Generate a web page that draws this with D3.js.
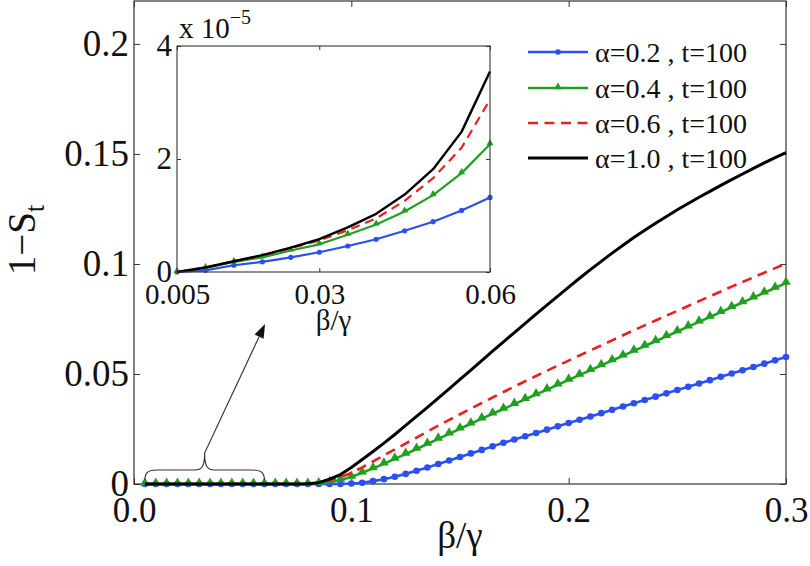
<!DOCTYPE html>
<html><head><meta charset="utf-8">
<script src="https://cdn.jsdelivr.net/npm/d3@7"></script>
<style>body{margin:0;background:#fff}</style></head><body>
<svg id="c" width="810" height="566"></svg>
<script>
// ---------- DATA ----------
const betaMain = [0.005,0.01,0.015,0.02,0.025,0.03,0.035,0.04,0.045,0.05,0.055,0.06,0.065,0.07,0.075,0.08,0.085,0.09,0.095,0.1,
  0.105,0.11,0.115,0.12,0.125,0.13,0.135,0.14,0.145,0.15,0.155,0.16,0.165,0.17,0.175,0.18,0.185,0.19,0.195,0.2,
  0.205,0.21,0.215,0.22,0.225,0.23,0.235,0.24,0.245,0.25,0.255,0.26,0.265,0.27,0.275,0.28,0.285,0.29,0.295,0.3];
const alpha02 = [0,0,0,0,0,0,0,0,0,0,0,0,0,0,0,0,0,0,0,0.0002,
  0.0006,0.0013,0.0022,0.0033,0.0046,0.0060,0.0075,0.0091,0.0107,0.0123,0.0139,0.0155,0.0171,0.0187,0.0202,0.0217,0.0232,0.0247,0.0262,0.0277,
  0.0292,0.0307,0.0322,0.0337,0.0352,0.0367,0.0382,0.0397,0.0412,0.0427,0.0442,0.0457,0.0472,0.0487,0.0502,0.0517,0.0532,0.0547,0.0562,0.0577];
const alpha04 = [0,0,0,0,0,0,0,0,0,0,0,0,0,0,0,0,0.0002,0.0008,0.0018,0.0032,
  0.0051,0.0071,0.0092,0.0114,0.0136,0.0159,0.0182,0.0205,0.0228,0.0251,0.0274,0.0297,0.0319,0.0341,0.0363,0.0385,0.0407,0.0429,0.0451,0.0473,
  0.0495,0.0517,0.0539,0.0561,0.0583,0.0605,0.0627,0.0649,0.0671,0.0693,0.0715,0.0737,0.0759,0.0781,0.0803,0.0825,0.0847,0.0869,0.0891,0.0913];
const alpha06 = [0,0,0,0,0,0,0,0,0,0,0,0,0,0,0,0,0.0006,0.0017,0.0032,0.0050,
  0.0076,0.0103,0.0130,0.0157,0.0184,0.0211,0.0238,0.0265,0.0291,0.0317,0.0343,0.0368,0.0393,0.0418,0.0443,0.0467,0.0491,0.0515,0.0538,0.0561,
  0.0584,0.0607,0.0630,0.0653,0.0676,0.0699,0.0721,0.0743,0.0765,0.0787,0.0809,0.0831,0.0853,0.0875,0.0897,0.0918,0.0939,0.0960,0.0981,0.1002];
const alpha10 = [0,0,0,0,0,0,0,0,0,0,0,0,0,0,0,0.0001,0.0006,0.0022,0.0043,0.0075,
  0.0111,0.0148,0.0186,0.0225,0.0266,0.0307,0.0348,0.0390,0.0432,0.0475,0.0518,0.0561,0.0604,0.0646,0.0688,0.0730,0.0772,0.0813,0.0854,0.0895,
  0.0935,0.0974,0.1012,0.1049,0.1085,0.1120,0.1153,0.1185,0.1216,0.1246,0.1275,0.1303,0.1330,0.1357,0.1383,0.1409,0.1434,0.1459,0.1483,0.1506];

// inset (values in units of 1e-5)
const betaInset = [0.005,0.01,0.015,0.02,0.025,0.03,0.035,0.04,0.045,0.05,0.055,0.06];
const inset02 = [0,0.03,0.12,0.18,0.26,0.35,0.46,0.58,0.73,0.89,1.09,1.32];
const inset04 = [0,0.07,0.18,0.26,0.38,0.49,0.66,0.84,1.07,1.36,1.75,2.26];
const inset06 = [0,0.08,0.19,0.29,0.42,0.56,0.74,0.95,1.26,1.66,2.20,3.05];
const inset10 = [0,0.08,0.19,0.30,0.43,0.58,0.79,1.03,1.37,1.82,2.48,3.55];

const seriesNames = ["\u03B1=0.2 , t=100","\u03B1=0.4 , t=100","\u03B1=0.6 , t=100","\u03B1=1.0 , t=100"];
const xTicks = [0,0.1,0.2,0.3];
const xTickLabels = ["0.0","0.1","0.2","0.3"];
const yTicks = [0,0.05,0.1,0.15,0.2];
const yTickLabels = ["0","0.05","0.1","0.15","0.2"];
const insetXTicks = [0.005,0.03,0.06];
const insetXTickLabels = ["0.005","0.03","0.06"];
const insetYTicks = [0,2,4];
const insetYTickLabels = ["0","2","4"];

// ---------- STYLE ----------
const FONT = "Liberation Serif";
const colors = ["#2b4ff0","#20a020","#e82020","#000000"];
const AX = "#333";

const svg = d3.select("#c");
const M = {l:134, r:786, t:1, b:484};
const x = d3.scaleLinear().domain([0,0.3]).range([M.l,M.r]);
const y = d3.scaleLinear().domain([0,0.2195]).range([M.b,M.t]);

function styleAxis(g, fs){
  g.attr("font-family",null).attr("font-size",null);
  g.select(".domain").remove();
  g.selectAll(".tick line").attr("stroke",AX);
  g.selectAll(".tick text").attr("fill","#111").style("font-family",FONT).style("font-size",fs+"px");
}
function txt(sel, fs){ return sel.style("font-family",FONT).style("font-size",fs+"px").attr("fill","#111"); }

// main axes
svg.append("g").attr("transform",`translate(0,${M.b})`)
  .call(d3.axisBottom(x).tickValues(xTicks).tickFormat((d,i)=>xTickLabels[i]).tickSize(-6).tickPadding(13))
  .call(g=>styleAxis(g,35));
svg.append("g").attr("transform",`translate(0,${M.t})`)
  .call(d3.axisTop(x).tickValues(xTicks).tickFormat("").tickSize(-6)).call(g=>styleAxis(g,35));
svg.append("g").attr("transform",`translate(${M.l},0)`)
  .call(d3.axisLeft(y).tickValues(yTicks).tickFormat((d,i)=>yTickLabels[i]).tickSize(-6).tickPadding(5))
  .call(g=>styleAxis(g,37));
svg.append("g").attr("transform",`translate(${M.r},0)`)
  .call(d3.axisRight(y).tickValues(yTicks).tickFormat("").tickSize(-6)).call(g=>styleAxis(g,37));
svg.append("rect").attr("x",M.l).attr("y",M.t).attr("width",M.r-M.l).attr("height",M.b-M.t)
  .attr("fill","none").attr("stroke",AX).attr("stroke-width",1.2);

// axis titles
txt(svg.append("text").attr("x",(M.l+M.r)/2).attr("y",548).attr("text-anchor","middle"),37).text("\u03B2/\u03B3");
const yt = txt(svg.append("text").attr("transform","translate(35,240) rotate(-90)").attr("text-anchor","middle"),39);
yt.append("tspan").text("1\u2212S");
yt.append("tspan").attr("dy",9).style("font-size","27px").text("t");

// main series
const mainSeries = [alpha02, alpha04, alpha06, alpha10];
const line = d3.line().x((d,i)=>x(betaMain[i])).y(d=>y(d));
const tri = d3.symbol().type(d3.symbolTriangle);
mainSeries.forEach((vals,k)=>{
  const p = svg.append("path").datum(vals).attr("d",line).attr("fill","none")
    .attr("stroke",colors[k]).attr("stroke-width", k===3?3:2.6).attr("stroke-linejoin","round");
  if(k===2) p.attr("stroke-dasharray","10,6.5");
  if(k===0){
    svg.append("g").selectAll("circle").data(vals).join("circle")
      .attr("cx",(d,i)=>x(betaMain[i])).attr("cy",d=>y(d)).attr("r",3.3).attr("fill",colors[0]);
  }
  if(k===1){
    svg.append("g").selectAll("path").data(vals).join("path")
      .attr("d",tri.size(40)()).attr("transform",(d,i)=>`translate(${x(betaMain[i])},${y(d)-1})`).attr("fill",colors[1]);
  }
});

// legend
const legY = [52,88,123,158];
seriesNames.forEach((name,k)=>{
  const g = svg.append("g");
  const l = g.append("line").attr("x1",528).attr("x2",588).attr("y1",legY[k]).attr("y2",legY[k])
    .attr("stroke",colors[k]).attr("stroke-width",k===3?3:2.6);
  if(k===2) l.attr("stroke-dasharray","10,6.5");
  if(k===0) g.append("circle").attr("cx",558).attr("cy",legY[k]).attr("r",2.8).attr("fill",colors[0]);
  if(k===1) g.append("path").attr("d",tri.size(26)()).attr("transform",`translate(558,${legY[k]-1})`).attr("fill",colors[1]);
  txt(g.append("text").attr("x",595).attr("y",legY[k]).attr("dy","0.34em"),28).text(name);
});

// brace + arrow
const bx0 = x(0.005), bx1 = x(0.06), bxm = (bx0+bx1)/2, yb = y(0)-4, yf = y(0)-14, ytp = y(0)-31;
svg.append("path").attr("d",
  `M${bx0},${yb} C${bx0},${yf+2} ${bx0+4},${yf} ${bx0+12},${yf} L${bxm-10},${yf} C${bxm-3},${yf} ${bxm},${yf-3} ${bxm},${ytp}
   C${bxm},${yf-3} ${bxm+3},${yf} ${bxm+10},${yf} L${bx1-12},${yf} C${bx1-4},${yf} ${bx1},${yf+2} ${bx1},${yb}`)
  .attr("fill","none").attr("stroke","#333").attr("stroke-width",1.1);
const ax2 = x(0.0603), ay2 = y(0.0727);
const ang = Math.atan2(ay2-ytp, ax2-bxm);
const hl = 14, hw = 5;
const bxh = ax2 - hl*Math.cos(ang), byh = ay2 - hl*Math.sin(ang);
svg.append("line").attr("x1",bxm).attr("y1",ytp).attr("x2",bxh).attr("y2",byh).attr("stroke","#333").attr("stroke-width",1.1);
svg.append("path").attr("d",`M${ax2},${ay2} L${bxh - hw*Math.sin(ang)},${byh + hw*Math.cos(ang)} L${bxh + hw*Math.sin(ang)},${byh - hw*Math.cos(ang)} Z`)
  .attr("fill","#111");

// ---------- INSET ----------
const I = {l:177, r:490, t:46, b:272};
const xi = d3.scaleLinear().domain([0.005,0.06]).range([I.l,I.r]);
const yi = d3.scaleLinear().domain([0,4]).range([I.b,I.t]);
svg.append("rect").attr("x",I.l).attr("y",I.t).attr("width",I.r-I.l).attr("height",I.b-I.t).attr("fill","#fff");
svg.append("g").attr("transform",`translate(0,${I.b})`)
  .call(d3.axisBottom(xi).tickValues(insetXTicks).tickFormat((d,i)=>insetXTickLabels[i]).tickSize(-4).tickPadding(11))
  .call(g=>styleAxis(g,29));
svg.append("g").attr("transform",`translate(0,${I.t})`)
  .call(d3.axisTop(xi).tickValues(insetXTicks).tickFormat("").tickSize(-4)).call(g=>styleAxis(g,29));
svg.append("g").attr("transform",`translate(${I.l},0)`)
  .call(d3.axisLeft(yi).tickValues(insetYTicks).tickFormat((d,i)=>insetYTickLabels[i]).tickSize(-4).tickPadding(5))
  .call(g=>styleAxis(g,31));
svg.append("g").attr("transform",`translate(${I.r},0)`)
  .call(d3.axisRight(yi).tickValues(insetYTicks).tickFormat("").tickSize(-4)).call(g=>styleAxis(g,29));

const insetSeries = [inset02, inset04, inset06, inset10];
const linei = d3.line().x((d,i)=>xi(betaInset[i])).y(d=>yi(d));
insetSeries.forEach((vals,k)=>{
  const p = svg.append("path").datum(vals).attr("d",linei).attr("fill","none")
    .attr("stroke",colors[k]).attr("stroke-width",k===3?2.4:2.2).attr("stroke-linejoin","round");
  if(k===2) p.attr("stroke-dasharray","9,6");
  if(k===0){
    svg.append("g").selectAll("circle").data(vals).join("circle")
      .attr("cx",(d,i)=>xi(betaInset[i])).attr("cy",d=>yi(d)).attr("r",2.6).attr("fill",colors[0]);
  }
  if(k===1){
    svg.append("g").selectAll("path").data(vals).join("path")
      .attr("d",tri.size(22)()).attr("transform",(d,i)=>`translate(${xi(betaInset[i])},${yi(d)-1})`).attr("fill",colors[1]);
  }
});
svg.append("rect").attr("x",I.l).attr("y",I.t).attr("width",I.r-I.l).attr("height",I.b-I.t)
  .attr("fill","none").attr("stroke",AX).attr("stroke-width",1.1);

// inset labels
txt(svg.append("text").attr("x",(I.l+I.r)/2).attr("y",330).attr("text-anchor","middle"),29).text("\u03B2/\u03B3");
const sc = txt(svg.append("text").attr("x",179).attr("y",38),29);
sc.append("tspan").text("x 10");
sc.append("tspan").attr("dy",-14).style("font-size","20px").text("\u22125");
</script>
</body></html>
